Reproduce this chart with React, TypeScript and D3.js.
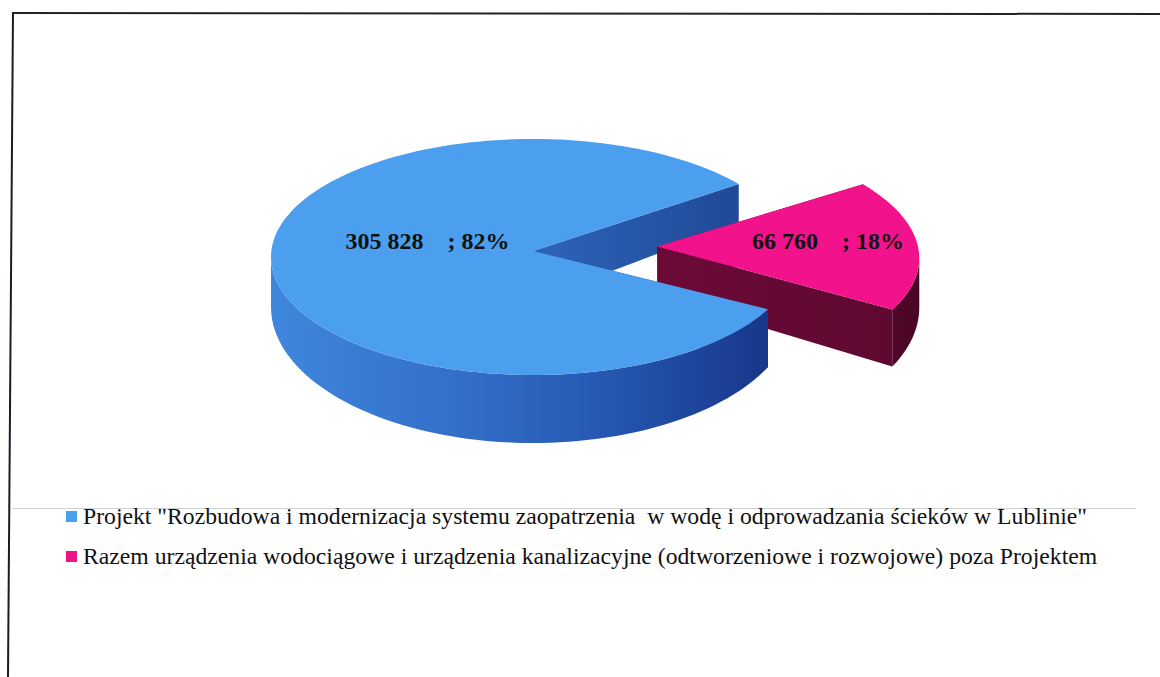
import React, { useEffect, useRef } from 'react';
import * as d3 from 'd3';

const categories = [
  'Projekt "Rozbudowa i modernizacja systemu zaopatrzenia  w wodę i odprowadzania ścieków w Lublinie"',
  'Razem urządzenia wodociągowe i urządzenia kanalizacyjne (odtworzeniowe i rozwojowe) poza Projektem',
];
const values = [305828, 66760];
const percents = ['82%', '18%'];
const explodes = [0, 0.477];
const topColors = ['#4c9fee', '#f2128b'];
const legendColors = ['#4aa2ec', '#ee1288'];

const W = 1160;
const H = 677;
const SERIF = 'Liberation Serif, Tinos, Times New Roman, serif';

const App = () => {
  const ref = useRef<SVGSVGElement>(null);

  useEffect(() => {
    const svg = d3.select(ref.current);
    svg.selectAll('*').remove();

    // faux perspective: ellipse for the top, thicker walls towards the viewer
    const cx = 533;
    const cy = 257;
    const rx = 262;
    const ry = 118;
    const lift = 6; // centre of the disc appears a little higher
    const d0 = 50;
    const d1 = 18;
    const toRad = Math.PI / 180;

    const proj = (wx: number, wy: number, z: number): [number, number] => [
      cx + rx * wx,
      cy + ry * wy + lift * (wx * wx + wy * wy - 1) + z * (d0 + d1 * wy),
    ];

    // frame of the scanned chart
    svg.append('line').attr('x1', 12).attr('y1', 13).attr('x2', W).attr('y2', 14)
      .attr('stroke', '#222').attr('stroke-width', 2);
    svg.append('line').attr('x1', 13).attr('y1', 12).attr('x2', 8).attr('y2', H)
      .attr('stroke', '#1a1a2a').attr('stroke-width', 2);
    svg.append('line').attr('x1', 12).attr('y1', 508.5).attr('x2', 1136).attr('y2', 508.5)
      .attr('stroke', '#d0d0d0').attr('stroke-width', 1);

    const defs = svg.append('defs');
    const grad = (id: string, x1: number, x2: number, stops: string[]) => {
      const g = defs.append('linearGradient').attr('id', id)
        .attr('gradientUnits', 'userSpaceOnUse')
        .attr('x1', x1).attr('x2', x2).attr('y1', 0).attr('y2', 0);
      stops.forEach((c, k) => g.append('stop')
        .attr('offset', `${(k / (stops.length - 1)) * 100}%`).attr('stop-color', c));
    };
    grad('wall0', cx - rx, cx + 235, ['#3f87dc', '#3472cc', '#2658b2', '#17378a']);
    grad('wall1', cx + 280, cx + 390, ['#5e0830', '#4a0625']);
    grad('notch', cx, cx + 200, ['#2d64ba', '#214a98']);
    grad('cut1', cx + 125, cx + 365, ['#6c0a37', '#5e0931']);

    // pink slice centred a little above the horizontal axis on the right
    const pinkMid = 84; // d3 angle in degrees (clockwise from 12 o'clock)
    const pinkSpan = (values[1] / d3.sum(values)) * 360;
    const start = (pinkMid + pinkSpan / 2) * toRad;
    const pie = d3.pie<number>().sort(null).startAngle(start).endAngle(start + 2 * Math.PI);
    const arcs = pie(values);

    const slices = arcs.map((a, i) => {
      const a0 = a.startAngle - Math.PI / 2; // screen angle, y down
      const a1 = a.endAngle - Math.PI / 2;
      const mid = (a0 + a1) / 2;
      const ox = explodes[i] * Math.cos(mid);
      const oy = explodes[i] * Math.sin(mid);
      return { i, a0, a1, mid, ox, oy };
    });

    type S = typeof slices[number];
    const line = d3.line<[number, number]>();
    const rim = (s: S, t: number, z: number) => proj(s.ox + Math.cos(t), s.oy + Math.sin(t), z);
    const samples = (lo: number, hi: number) => {
      const n = Math.max(4, Math.ceil(((hi - lo) / Math.PI) * 90));
      return d3.range(n + 1).map((k) => lo + ((hi - lo) * k) / n);
    };

    const topPath = (s: S) =>
      line([proj(s.ox, s.oy, 0), ...samples(s.a0, s.a1).map((t) => rim(s, t, 0))]) + 'Z';

    const cutPath = (s: S, t: number) =>
      line([proj(s.ox, s.oy, 0), rim(s, t, 0), rim(s, t, 1), proj(s.ox, s.oy, 1)]) + 'Z';

    const wallPaths = (s: S) => {
      const out: string[] = [];
      for (let k = -1; k <= 2; k++) {
        const lo = Math.max(s.a0, 2 * Math.PI * k);
        const hi = Math.min(s.a1, 2 * Math.PI * k + Math.PI);
        if (hi <= lo) continue;
        const ts = samples(lo, hi);
        out.push(line([
          ...ts.map((t) => rim(s, t, 0)),
          ...ts.slice().reverse().map((t) => rim(s, t, 1)),
        ]) + 'Z');
      }
      return out;
    };

    const g = svg.append('g');
    const blue = slices[0];
    const pink = slices[1];

    // cut faces of the big slice sit behind the exploded one
    [blue.a0, blue.a1].forEach((t) => {
      g.append('path').attr('d', cutPath(blue, t)).attr('fill', 'url(#notch)');
    });
    [pink.a0, pink.a1].forEach((t) => {
      g.append('path').attr('d', cutPath(pink, t)).attr('fill', 'url(#cut1)');
    });
    wallPaths(pink).forEach((d) => g.append('path').attr('d', d).attr('fill', 'url(#wall1)'));
    g.append('path').attr('d', topPath(pink)).attr('fill', topColors[1]);
    wallPaths(blue).forEach((d) => g.append('path').attr('d', d).attr('fill', 'url(#wall0)'));
    g.append('path').attr('d', topPath(blue)).attr('fill', topColors[0]);

    // data labels
    const labelR = [0.405, 0.655];
    const fmt = (v: number) => d3.format(',')(v).replace(/,/g, ' ');
    slices.forEach((s, i) => {
      const [lx] = proj(s.ox + labelR[i] * Math.cos(s.mid), 0, 0);
      g.append('text')
        .attr('x', lx)
        .attr('y', 249)
        .attr('text-anchor', 'middle')
        .style('font-family', SERIF)
        .style('font-weight', 'bold')
        .style('font-size', '24px')
        .style('white-space', 'pre')
        .attr('fill', '#111')
        .text(`${fmt(values[i])}    ; ${percents[i]}`);
    });

    // legend
    const leg = svg.append('g');
    categories.forEach((c, i) => {
      const y = 524 + i * 40;
      leg.append('rect').attr('x', 66).attr('y', y - 13).attr('width', 11).attr('height', 11)
        .attr('fill', legendColors[i]);
      leg.append('text').attr('x', 83).attr('y', y)
        .style('font-family', SERIF)
        .style('font-size', '23.7px')
        .style('white-space', 'pre')
        .attr('fill', '#111')
        .text(c);
    });
  }, []);

  return (
    <svg
      ref={ref}
      width={W}
      height={H}
      style={{ position: 'absolute', left: 0, top: 0, background: '#fff' }}
    />
  );
};

export default App;
